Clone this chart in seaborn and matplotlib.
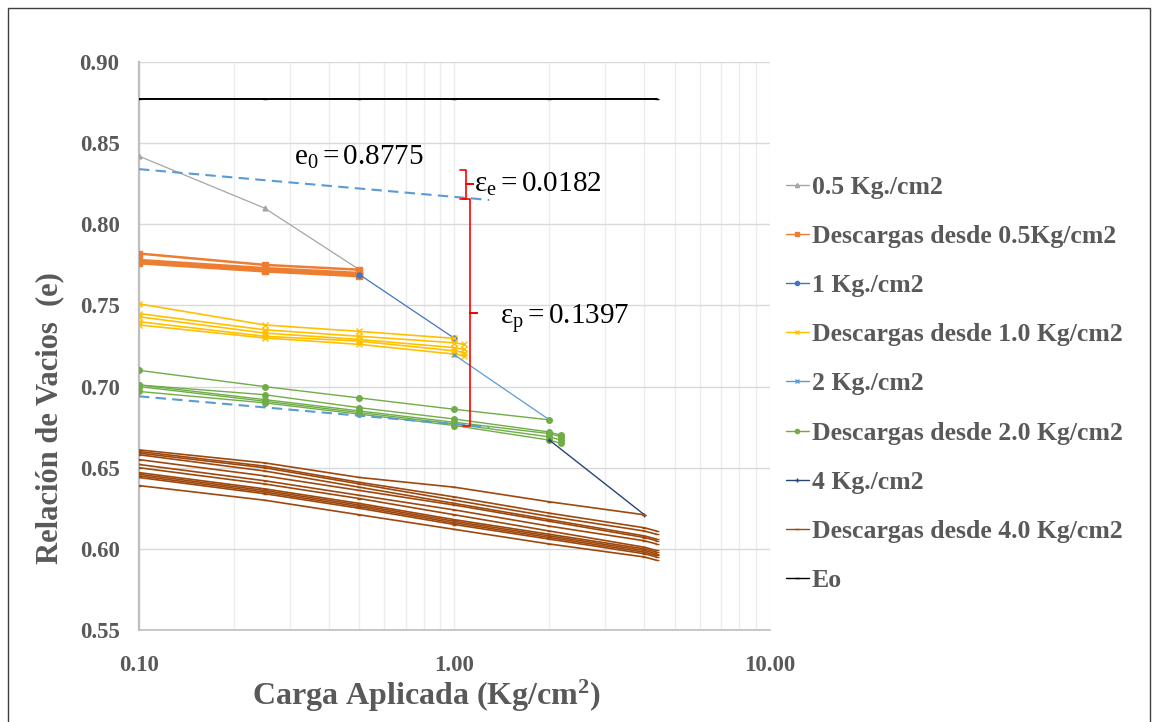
import numpy as np
import pandas as pd
import matplotlib
matplotlib.use("Agg")
import matplotlib.pyplot as plt
from matplotlib.patches import Rectangle
import seaborn as sns

sns.set_theme(style="white")
plt.rcParams["font.family"] = ["Liberation Serif", "DejaVu Serif"]
plt.rcParams["mathtext.fontset"] = "custom"
plt.rcParams["mathtext.rm"] = "Liberation Serif"
plt.rcParams["mathtext.it"] = "Liberation Serif:italic"

# --- datos --------------------------------------------------------------
X_CARGA_05 = [0.1, 0.25, 0.5]
E_CARGA_05 = [0.842, 0.810, 0.772]

X_DESC_05 = [0.1, 0.25, 0.5]
E_DESC_05 = [
    [0.782, 0.775, 0.772],
    [0.778, 0.773, 0.770],
    [0.777, 0.772, 0.769],
    [0.776, 0.771, 0.768],
]

X_CARGA_1 = [0.5, 1.0]
E_CARGA_1 = [0.769, 0.7297]

X_DESC_1 = [0.1, 0.25, 0.5, 1.0, 1.07]
E_DESC_1 = [
    [0.751, 0.738, 0.734, 0.7297, np.nan],
    [0.745, 0.735, 0.731, 0.727, 0.726],
    [0.743, 0.733, 0.729, 0.724, 0.723],
    [0.740, 0.731, 0.728, 0.722, 0.721],
    [0.738, 0.730, 0.726, 0.720, 0.719],
]

X_CARGA_2 = [1.0, 2.0]
E_CARGA_2 = [0.7195, 0.6795]

X_DESC_2 = [0.1, 0.25, 0.5, 1.0, 2.0, 2.18]
E_DESC_2 = [
    [0.710, 0.700, 0.693, 0.686, 0.6795, np.nan],
    [0.701, 0.695, 0.687, 0.680, 0.672, 0.670],
    [0.701, 0.692, 0.685, 0.678, 0.671, 0.669],
    [0.700, 0.691, 0.684, 0.677, 0.669, 0.667],
    [0.697, 0.690, 0.683, 0.676, 0.667, 0.665],
]

X_CARGA_4 = [2.0, 4.0]
E_CARGA_4 = [0.667, 0.621]

X_DESC_4 = [0.1, 0.25, 0.5, 1.0, 2.0, 4.0, 4.37]
E_DESC_4 = [
    [0.661, 0.653, 0.644, 0.638, 0.629, 0.621, np.nan],
    [0.660, 0.651, 0.641, 0.632, 0.622, 0.613, 0.611],
    [0.659, 0.650, 0.640, 0.630, 0.620, 0.611, 0.609],
    [0.658, 0.648, 0.638, 0.628, 0.618, 0.608, 0.606],
    [0.655, 0.645, 0.636, 0.627, 0.617, 0.607, 0.605],
    [0.652, 0.642, 0.633, 0.624, 0.614, 0.605, 0.603],
    [0.650, 0.640, 0.631, 0.621, 0.611, 0.601, 0.599],
    [0.647, 0.637, 0.628, 0.618, 0.609, 0.600, 0.598],
    [0.646, 0.636, 0.627, 0.617, 0.608, 0.599, 0.597],
    [0.645, 0.635, 0.626, 0.616, 0.607, 0.598, 0.596],
    [0.644, 0.634, 0.625, 0.615, 0.606, 0.597, 0.595],
    [0.639, 0.630, 0.621, 0.612, 0.603, 0.595, 0.593],
]

X_EO = [0.1, 0.25, 0.5, 1.0, 2.0, 4.37]
E_EO = [0.8775, 0.8775, 0.8775, 0.8775, 0.8775, 0.8775]

# rectas de construccion (descarga) y valores de deformacion
X_RECTA = [0.1, 1.29]
E_RECTA_SUP = [0.834, 0.815]
E_RECTA_INF = [0.694, 0.675]
E0 = 0.8775
EPS_E = 0.0182
EPS_P = 0.1397
E_BRACE_TOP = 0.8337

GRIS = "#595959"

SERIES = [
    # (label, x, lista de curvas, color, marker, markersize, linewidth)
    ("0.5 Kg./cm2", X_CARGA_05, [E_CARGA_05], "#A5A5A5", "^", 3.5, 0.9),
    ("Descargas desde 0.5Kg/cm2", X_DESC_05, E_DESC_05, "#ED7D31", "s", 4.5, 1.8),
    ("1 Kg./cm2", X_CARGA_1, [E_CARGA_1], "#4472C4", "o", 3.5, 0.9),
    ("Descargas desde 1.0 Kg/cm2", X_DESC_1, E_DESC_1, "#FFC000", "x", 4, 1.2),
    ("2 Kg./cm2", X_CARGA_2, [E_CARGA_2], "#5B9BD5", "x", 3.5, 0.9),
    ("Descargas desde 2.0 Kg/cm2", X_DESC_2, E_DESC_2, "#70AD47", "o", 4, 1.0),
    ("4 Kg./cm2", X_CARGA_4, [E_CARGA_4], "#264478", "+", 3.5, 1.0),
    ("Descargas desde 4.0 Kg/cm2", X_DESC_4, E_DESC_4, "#9E480E", "_", 3, 1.2),
    ("Eo", X_EO, [E_EO], "#000000", "_", 3, 1.4),
]


def draw_brace(ax, x, top, bottom, color="red"):
    mid = (top + bottom) / 2
    ax.plot([x / 1.045, x, x, x * 1.055, x, x, x / 1.045],
            [top, top, mid, mid, mid, bottom, bottom],
            color=color, lw=1.2, solid_joinstyle="round", zorder=5)


fig = plt.figure(figsize=(11.61, 7.22), dpi=100)
ax = fig.add_axes([0.1197, 0.1274, 0.5435, 0.7867])

handles = []
for label, xs, curvas, color, marker, ms, lw in SERIES:
    for es in curvas:
        df = pd.DataFrame({"carga": xs, "e": es}).dropna()
        sns.lineplot(data=df, x="carga", y="e", ax=ax, color=color, marker=marker,
                     markersize=ms, linewidth=lw, markeredgecolor=color,
                     markeredgewidth=1.0, legend=False, zorder=3)
    handles.append(plt.Line2D([], [], color=color, marker=marker, markersize=3,
                              linewidth=1.0, markeredgecolor=color, label=label))

for e_recta in (E_RECTA_SUP, E_RECTA_INF):
    df = pd.DataFrame({"carga": X_RECTA, "e": e_recta})
    sns.lineplot(data=df, x="carga", y="e", ax=ax, color="#5B9BD5", linewidth=1.5,
                 linestyle=(0, (5, 3)), legend=False, zorder=4)

# llaves de deformacion
draw_brace(ax, 1.089, E_BRACE_TOP, E_BRACE_TOP - EPS_E)
draw_brace(ax, 1.116, E_BRACE_TOP - EPS_E, E_BRACE_TOP - EPS_E - EPS_P)

ann = dict(fontsize=21, color="black", va="center")
ax.text(0.31, 0.8415, rf"$\mathrm{{e_0 = {E0:.4f}}}$", ha="left", **ann)
ax.text(1.15, 0.8245, rf"$\mathrm{{ε_e = {EPS_E:.4f}}}$", ha="left", **ann)
ax.text(1.39, 0.742, rf"$\mathrm{{ε_p = {EPS_P:.4f}}}$", ha="left", **ann)

ax.set_xscale("log")
ax.set_xlim(0.1, 10)
ax.set_ylim(0.55, 0.90)
yt = np.arange(0.55, 0.901, 0.05)
ax.set_yticks(yt)
ax.set_yticklabels([f"{v:.2f}" for v in yt])
ax.set_xticks([0.1, 1, 10])
ax.set_xticklabels(["0.10", "1.00", "10.00"])
ax.tick_params(axis="both", length=0, labelsize=16.5, labelcolor=GRIS)
ax.tick_params(axis="y", pad=14)
ax.tick_params(axis="x", pad=18)
for lab in ax.get_xticklabels() + ax.get_yticklabels():
    lab.set_fontweight("bold")

ax.grid(True, which="major", axis="y", color="#d9d9d9", lw=1.0)
ax.grid(True, which="both", axis="x", color="#ececec", lw=1.0)
ax.set_axisbelow(True)
for side in ["top", "right"]:
    ax.spines[side].set_visible(False)
ax.spines["left"].set_color("#bfbfbf")
ax.spines["left"].set_linewidth(1.6)
ax.spines["bottom"].set_color("#bfbfbf")
ax.spines["bottom"].set_linewidth(1.2)

ax.set_xlabel("Carga Aplicada (Kg/cm$^\\mathregular{2}$)", fontsize=23,
              fontweight="bold", color=GRIS)
ax.set_ylabel("Relación de Vacios  (e)", fontsize=22, fontweight="bold", color=GRIS)
ax.xaxis.set_label_coords(0.456, -0.085)
ax.yaxis.set_label_coords(-0.118, 0.373)

leg = fig.legend(handles=handles, loc="upper left", bbox_to_anchor=(0.668, 0.771),
                 frameon=False, fontsize=18.5, labelcolor=GRIS, handlelength=0.9,
                 handletextpad=0.1, labelspacing=1.02, borderaxespad=0)
for t in leg.get_texts():
    t.set_fontweight("bold")

fig.patches.append(Rectangle((8 / 1161, -0.1), 1142 / 1161, 1.1 - 8 / 722,
                             transform=fig.transFigure, fill=False,
                             edgecolor="#404040", lw=1.0))

fig.savefig("out.png", dpi=100)
